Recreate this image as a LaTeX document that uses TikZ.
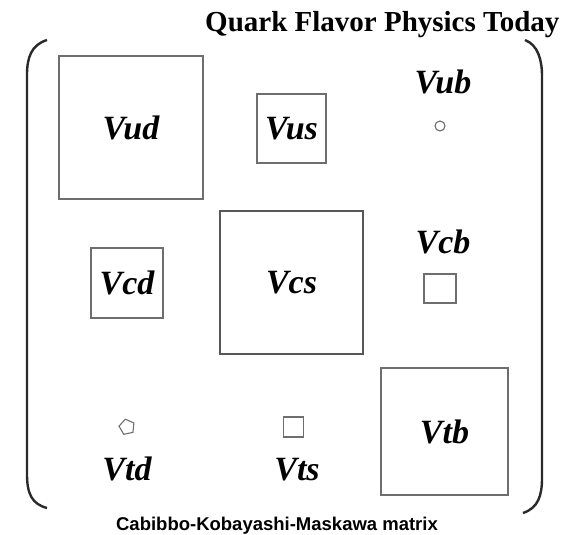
\documentclass[tikz,border=0pt]{standalone}
\usepackage{fontspec}
\setmainfont{Liberation Serif}
\newfontfamily\capfont{Liberation Sans}
\usetikzlibrary{shapes.geometric}
\definecolor{boxgray}{HTML}{6E6E6E}
\definecolor{parengray}{HTML}{2A2A2A}

\begin{document}
\begin{tikzpicture}[
    x=1pt, y=-1pt,
    elbox/.style={rectangle, draw=boxgray, line width=1.4pt, inner sep=0pt,
                  font=\fontsize{34}{34}\selectfont\bfseries\itshape},
    ellabel/.style={anchor=base, inner sep=0pt,
                    font=\fontsize{34}{34}\selectfont\bfseries\itshape},
    elmark/.style={draw=boxgray, line width=1.1pt, inner sep=0pt},
    paren/.style={draw=parengray, line width=2.4pt}
  ]

  \useasboundingbox (0,0) rectangle (562,535);
  \fill[white] (0,0) rectangle (562,535);

  % ---- Title ----
  \node[anchor=base west, inner sep=0pt,
        font=\fontsize{29}{29}\selectfont\bfseries]
    (title) at (205,32) {Quark Flavor Physics Today};

  % ---- Matrix brackets ----
  \draw[paren] (47,40) .. controls (31,45) and (27,58) .. (27,75)
    -- (27,474) .. controls (27,494) and (32,504) .. (47,508);
  \draw[paren] (525,40) .. controls (538,45) and (542,60) .. (542,76)
    -- (542,478) .. controls (542,496) and (538,508) .. (523,513);

  % ============ Row u ============
  \node[elbox, minimum width=144pt, minimum height=143pt]
    (Vud) at (131,127.5) {Vud};
  \node[elbox, minimum size=69pt]
    (Vus) at (291.5,128.5) {Vus};
  \node[ellabel] (Vub) at (443,93) {Vub};
  \node[elmark, circle, minimum size=10pt] (Vubmark) at (440,126) {};

  % ============ Row c ============
  \node[elbox, minimum width=72pt, minimum height=70pt]
    (Vcd) at (127,283) {Vcd};
  \node[elbox, draw=boxgray!80!black, minimum size=143pt]
    (Vcs) at (291.5,282.5) {Vcs};
  \node[ellabel] (Vcb) at (443,253) {Vcb};
  \node[elmark, rectangle, minimum width=32pt, minimum height=29pt]
    (Vcbmark) at (440,288.5) {};

  % ============ Row t ============
  \node[elmark, regular polygon, regular polygon sides=5, rotate=12,
        minimum size=16pt] (Vtdmark) at (127,427) {};
  \node[ellabel] (Vtd) at (127,480) {Vtd};
  \node[elmark, rectangle, minimum size=20pt] (Vtsmark) at (293.5,427) {};
  \node[ellabel] (Vts) at (297,480) {Vts};
  \node[elbox, minimum size=127pt]
    (Vtb) at (444.5,431.5) {Vtb};

  % ---- Caption ----
  \node[anchor=base, inner sep=0pt,
        font=\capfont\fontsize{18.5}{18.5}\selectfont\bfseries]
    (caption) at (277,530) {Cabibbo-Kobayashi-Maskawa matrix};

\end{tikzpicture}
\end{document}
